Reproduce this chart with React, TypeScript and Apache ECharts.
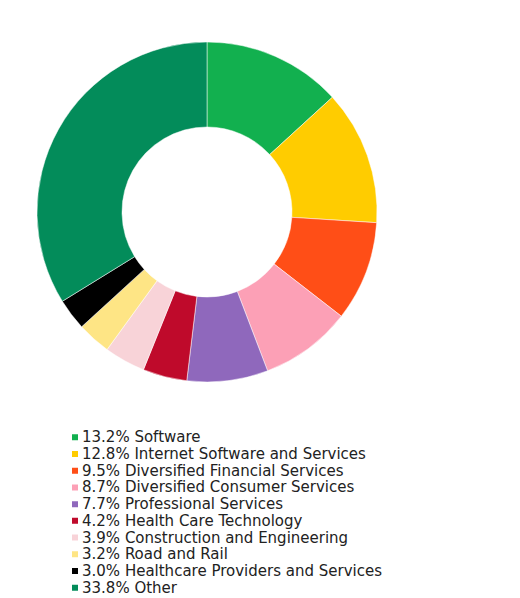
import React, { useRef, useEffect } from 'react'
import * as echarts from 'echarts'

const sectors = [
  'Software',
  'Internet Software and Services',
  'Diversified Financial Services',
  'Diversified Consumer Services',
  'Professional Services',
  'Health Care Technology',
  'Construction and Engineering',
  'Road and Rail',
  'Healthcare Providers and Services',
  'Other',
]

const weights = [13.2, 12.8, 9.5, 8.7, 7.7, 4.2, 3.9, 3.2, 3.0, 33.8]

const colors = [
  '#12b04f',
  '#ffcc00',
  '#ff4e17',
  '#fca0b6',
  '#8f68bc',
  '#bf0a2b',
  '#f8d3d8',
  '#fee585',
  '#000000',
  '#038c5a',
]

const App: React.FC = () => {
  const chartRef = useRef<HTMLDivElement>(null)

  useEffect(() => {
    document.body.style.margin = '0'
    if (!chartRef.current) return
    const chart = echarts.init(chartRef.current, undefined, { renderer: 'svg' })

    const weightOf = new Map(sectors.map((s, i) => [s, weights[i]]))

    chart.setOption({
      animation: false,
      color: colors,
      legend: {
        orient: 'vertical',
        left: 70,
        top: 429,
        height: 170,
        padding: 0,
        icon: 'rect',
        itemWidth: 8,
        itemHeight: 8,
        itemGap: 0,
        selectedMode: false,
        textStyle: {
          fontFamily: 'DejaVu Sans',
          fontSize: 15,
          lineHeight: 16.7,
          color: '#222',
          padding: [0, 0, 0, -2],
        },
        formatter: (name: string) => `${weightOf.get(name)!.toFixed(1)}% ${name}`,
        data: sectors,
      },
      series: [
        {
          type: 'pie',
          center: [207, 212],
          radius: [85, 170],
          startAngle: 90,
          clockwise: true,
          label: { show: false },
          labelLine: { show: false },
          emphasis: { disabled: true },
          itemStyle: { borderColor: '#fff', borderWidth: 0.5 },
          data: sectors.map((s, i) => ({ name: s, value: weights[i] })),
        },
      ],
    })

    return () => {
      chart.dispose()
    }
  }, [])

  return <div ref={chartRef} style={{ width: '520px', height: '598px' }} />
}

export default App
